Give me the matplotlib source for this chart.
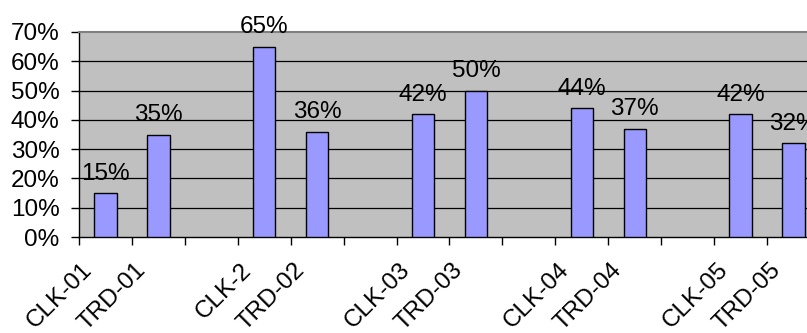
import numpy as np
import matplotlib.pyplot as plt
from matplotlib.transforms import ScaledTranslation

plt.rcParams['font.family'] = ['Liberation Sans', 'DejaVu Sans']

# categories (blank entries are spacer slots between pairs)
labels = ['CLK-01', 'TRD-01', '', 'CLK-2', 'TRD-02', '', 'CLK-03', 'TRD-03', '',
          'CLK-04', 'TRD-04', '', 'CLK-05', 'TRD-05']
values = [15, 35, None, 65, 36, None, 42, 50, None, 44, 37, None, 42, 32]

fs = 17.5

fig = plt.figure(figsize=(8.07, 3.33), dpi=100)
ax = fig.add_axes([79 / 807, 96 / 333, 741 / 807, 205 / 333])
ax.set_facecolor('#C0C0C0')

x = np.arange(len(labels))
for i, v in enumerate(values):
    if v is None:
        continue
    ax.bar(x[i], v, width=0.42, color='#9999FF', edgecolor='black', linewidth=1, zorder=3)
    ax.text(x[i], v + 4.6, f'{v}%', ha='center', va='baseline', fontsize=fs,
            clip_on=False, zorder=4)

ax.set_xlim(-0.5, len(labels) - 0.5)
ax.set_ylim(0, 70)

# y axis
yt = np.arange(0, 71, 10)
ax.set_yticks(yt)
ax.set_yticklabels([f'{t}%' for t in yt], fontsize=fs)
ax.tick_params(axis='y', direction='out', length=6, width=1, pad=8)
for t in yt[1:-1]:
    ax.axhline(t, color='black', linewidth=0.9, zorder=1)

# x axis: tick marks between categories, labels at centres
ax.set_xticks(x)
ax.set_xticklabels(labels, fontsize=fs, rotation=45, ha='right', va='top',
                   rotation_mode='anchor')
ax.tick_params(axis='x', which='major', length=0, pad=16)
ax.set_xticks(np.arange(-0.5, len(labels), 1), minor=True)
ax.tick_params(axis='x', which='minor', direction='out', length=6, width=1)
shift = ScaledTranslation(-24 / 100, 0, fig.dpi_scale_trans)
for lab in ax.get_xticklabels():
    lab.set_transform(lab.get_transform() + shift)

ax.spines['right'].set_visible(False)
ax.spines['top'].set_color('#808080')
ax.spines['top'].set_linewidth(1.5)
ax.spines['left'].set_linewidth(1)
ax.spines['bottom'].set_linewidth(1)

fig.savefig('out.png', dpi=100)
